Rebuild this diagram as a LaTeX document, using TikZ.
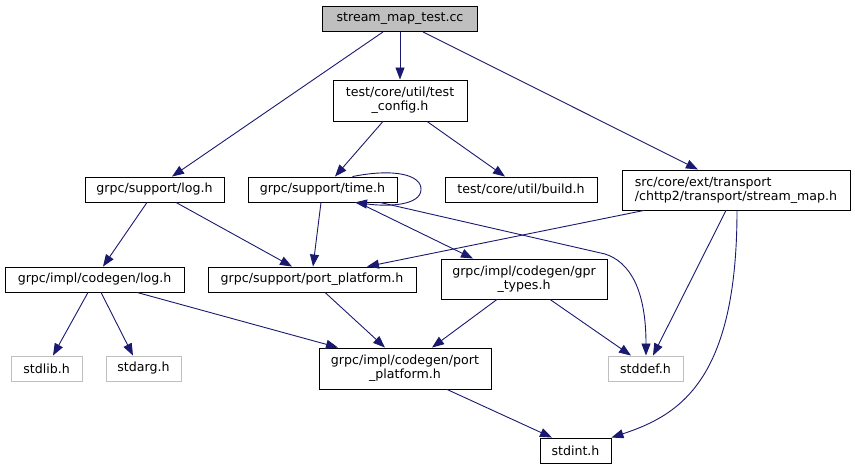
\documentclass[tikz,border=0pt]{standalone}
\usepackage{fontspec}
\setmainfont{DejaVu Sans}
\usetikzlibrary{arrows.meta}
\definecolor{dep-blue}{HTML}{191970}
\definecolor{ext-gray}{HTML}{BFBFBF}
\tikzset{
  hdr/.style={draw=black, line width=0.9bp, inner sep=0pt, minimum width=#1,
    minimum height=25bp, align=center, font=\fontsize{12.6bp}{14bp}\selectfont},
  hdr two/.style={hdr=#1, minimum height=41bp},
  ext/.style={hdr=#1, draw=ext-gray},
  root/.style={hdr=#1, fill=ext-gray},
  dep/.style={draw=dep-blue, line width=0.9bp, -{Triangle[length=12bp,width=9bp]}, dep-blue},
}
\begin{document}
\begin{tikzpicture}[x=1bp, y=-1bp]
\useasboundingbox (0,0) rectangle (855,469);
% headers
\node[root=155bp] (main) at (400,19) {stream\_map\_test.cc};
\node[hdr two=134bp] (cfg) at (400,100.5) {test/core/util/test\\\_config.h};
\node[hdr=139bp] (log) at (154.5,189.5) {grpc/support/log.h};
\node[hdr=149bp] (time) at (322.5,189.5) {grpc/support/time.h};
\node[hdr=152bp] (build) at (521,189.5) {test/core/util/build.h};
\node[hdr two=228bp, minimum height=40bp, align=left] (smap) at (736,190) {src/core/ext/transport\\/chttp2/transport/stream\_map.h};
\node[hdr=179bp] (cglog) at (94.5,279.5) {grpc/impl/codegen/log.h};
\node[hdr=208bp] (pp) at (312,279.5) {grpc/support/port\_platform.h};
\node[hdr two=166bp, minimum height=40bp] (gpr) at (524,279) {grpc/impl/codegen/gpr\\\_types.h};
\node[hdr two=172bp] (cgpp) at (405,368.5) {grpc/impl/codegen/port\\\_platform.h};
\node[hdr=71bp] (stdint) at (575.5,450.5) {stdint.h};
% system headers
\node[ext=71bp] (stdlib) at (46.5,368.5) {stdlib.h};
\node[ext=75bp] (stdarg) at (143.5,368.5) {stdarg.h};
\node[ext=75bp] (stddef) at (645.5,368.5) {stddef.h};
% includes
\draw[dep] ([xshift=-17bp]main.south) -- ([xshift=17.5bp]log.north);
\draw[dep] (main.south) -- (cfg.north);
\draw[dep] ([xshift=23bp]main.south) -- ([xshift=-38bp]smap.north);
\draw[dep] ([xshift=-17bp]cfg.south) -- ([xshift=12.5bp]time.north);
\draw[dep] ([xshift=27bp]cfg.south) -- ([xshift=-16bp]build.north);
\draw[dep] ([xshift=-7.5bp]log.south) -- ([xshift=8.5bp]cglog.north);
\draw[dep] ([xshift=21.5bp]log.south) -- ([xshift=-20bp]pp.north);
\draw[dep] ([xshift=-1.5bp]time.south) -- ([xshift=1bp]pp.north);
\draw[dep] ([xshift=35.5bp]time.south) -- ([xshift=-51bp]gpr.north);
\draw[dep] ([xshift=57.5bp]time.south) -- (605,254) .. controls (630,262) and (646,290) .. ([xshift=0.5bp]stddef.north);
\draw[dep] ([xshift=30bp]time.north) .. controls (395,168) and (422,175) .. (421,190) .. controls (420,205) and (390,207) .. ([xshift=32.5bp]time.south);
\draw[dep] ([xshift=-92bp]smap.south) -- ([xshift=55bp]pp.north);
\draw[dep] ([xshift=-10bp]smap.south) -- ([xshift=7.5bp]stddef.north);
\draw[dep] ([xshift=1bp]smap.south) .. controls (737,380) and (680,415) .. (stdint.north east);
\draw[dep] ([xshift=-6.5bp]cglog.south) -- ([xshift=6.5bp]stdlib.north);
\draw[dep] ([xshift=6.5bp]cglog.south) -- ([xshift=-10.5bp]stdarg.north);
\draw[dep] ([xshift=42.5bp]cglog.south) -- ([xshift=-67bp]cgpp.north);
\draw[dep] ([xshift=13bp]pp.south) -- ([xshift=-20bp]cgpp.north);
\draw[dep] ([xshift=-27bp]gpr.south) -- ([xshift=27bp]cgpp.north);
\draw[dep] ([xshift=26bp]gpr.south) -- ([xshift=-14.5bp]stddef.north);
\draw[dep] ([xshift=42bp]cgpp.south) -- ([xshift=-23.5bp]stdint.north);
\end{tikzpicture}
\end{document}
